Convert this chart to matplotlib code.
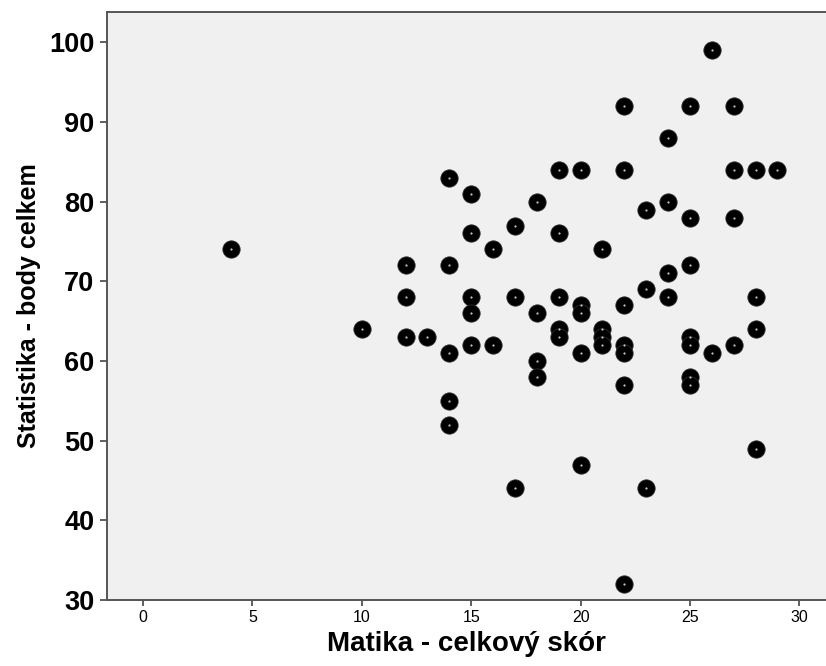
import matplotlib
matplotlib.use("Agg")
import matplotlib.pyplot as plt

# Matika - celkový skór vs Statistika - body celkem
matika = [4, 10,
          12, 12, 12, 13,
          14, 14, 14, 14, 14,
          15, 15, 15, 15, 15,
          16, 16, 17, 17, 17,
          18, 18, 18, 18,
          19, 19, 19, 19, 19,
          20, 20, 20, 20, 20,
          21, 21, 21, 21,
          22, 22, 22, 22, 22, 22, 22,
          23, 23, 23,
          24, 24, 24, 24,
          25, 25, 25, 25, 25, 25, 25,
          26, 26,
          27, 27, 27, 27,
          28, 28, 28, 28,
          29]
statistika = [74, 64,
              72, 68, 63, 63,
              83, 72, 61, 55, 52,
              81, 76, 68, 66, 62,
              74, 62, 77, 68, 44,
              80, 66, 60, 58,
              84, 76, 68, 64, 63,
              84, 67, 66, 61, 47,
              74, 64, 63, 62,
              92, 84, 67, 62, 61, 57, 32,
              79, 69, 44,
              88, 80, 71, 68,
              92, 78, 72, 63, 62, 58, 57,
              99, 61,
              92, 84, 78, 62,
              84, 68, 64, 49,
              84]

x_ticks = [0, 5, 10, 15, 20, 25, 30]
y_ticks = [30, 40, 50, 60, 70, 80, 90, 100]

plt.rcParams['font.family'] = ['Liberation Sans', 'DejaVu Sans']

fig = plt.figure(figsize=(8.26, 6.66), dpi=100)
W, H = 826, 666
ax = fig.add_axes([107 / W, 66 / H, 1 - 107 / W, 588 / H])
ax.set_facecolor('#f0f0f0')

ax.scatter(matika, statistika, s=155, c='black', edgecolors='#2a2a2a',
           linewidths=0.6, zorder=3)
ax.scatter(matika, statistika, s=2.5, c='#c8c8c8', linewidths=0, zorder=4)

ax.set_xlim(-1.65, 31.22)
ax.set_ylim(30, 103.8)
ax.set_xticks(x_ticks)
ax.set_yticks(y_ticks)
ax.set_xticklabels([str(t) for t in x_ticks], fontsize=11.5)
ax.set_yticklabels([str(t) for t in y_ticks], fontsize=19.5, fontweight='bold')

ax.tick_params(axis='x', length=4.5, width=1.2, color='#444444', pad=3)
ax.tick_params(axis='y', length=5, width=1.2, color='#444444', pad=4)

for side in ['left', 'bottom', 'top']:
    ax.spines[side].set_color('#555555')
    ax.spines[side].set_linewidth(1.4)
ax.spines['right'].set_visible(False)

ax.set_xlabel('Matika - celkový skór', fontsize=20, fontweight='bold', labelpad=4)
ax.set_ylabel('Statistika - body celkem', fontsize=18, fontweight='bold', labelpad=6)

fig.savefig('out.png', dpi=100)
